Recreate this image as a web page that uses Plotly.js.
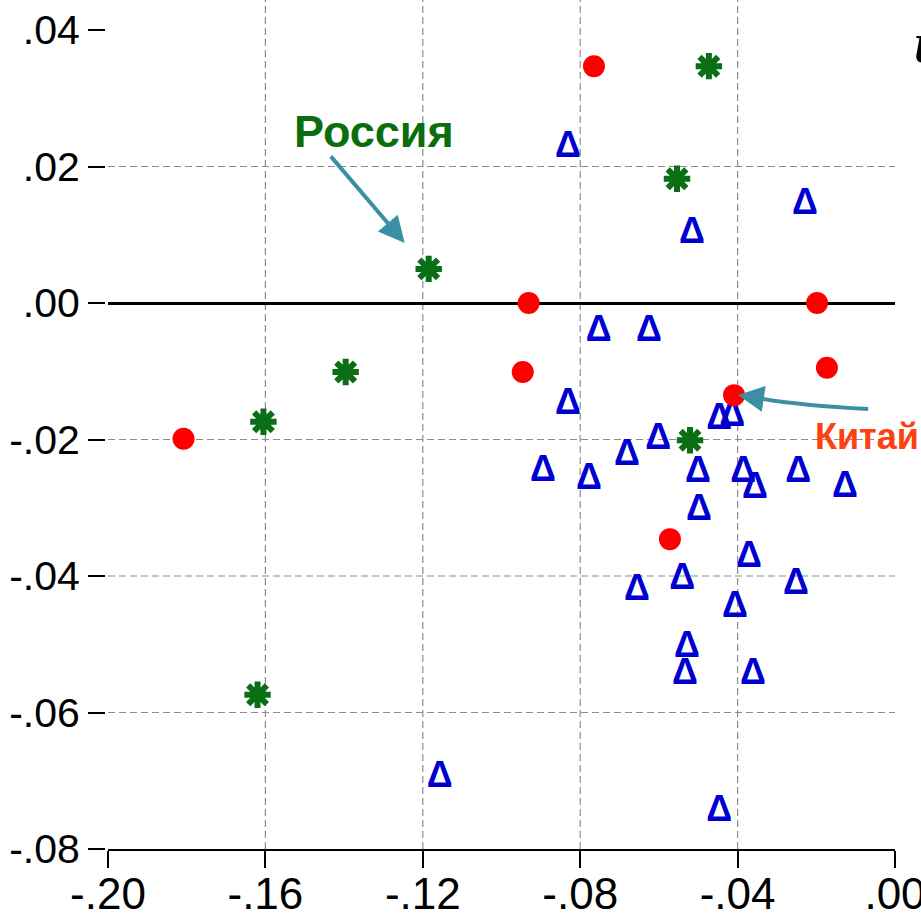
<!DOCTYPE html>
<html>
<head>
<meta charset="utf-8">
<script src="https://cdn.plot.ly/plotly-3.0.1.min.js"></script>
<style>html,body{margin:0;padding:0;background:#fff;}#chart{width:921px;height:922px;}</style>
</head>
<body>
<div id="chart"></div>
<script>
// Red circles
const redX = [-0.0765, -0.0931, -0.0198, -0.0946, -0.0173, -0.0409, -0.1808, -0.0572];
const redY = [0.0347, 0.0000, 0.0000, -0.0101, -0.0095, -0.0135, -0.0199, -0.0346];
// Green asterisks
const greenX = [-0.0473, -0.0554, -0.1185, -0.1396, -0.1605, -0.0521, -0.1620];
const greenY = [0.0347, 0.0182, 0.0050, -0.0101, -0.0174, -0.0201, -0.0574];
// Blue triangles
const blueX = [-0.0831, -0.0229, -0.0516, -0.0753, -0.0625, -0.0831, -0.0447, -0.0414, -0.0602, -0.0681,
               -0.0895, -0.0778, -0.0501, -0.0386, -0.0356, -0.0246, -0.0127, -0.0498, -0.0371, -0.0656,
               -0.0541, -0.0252, -0.0407, -0.0529, -0.0534, -0.0361, -0.1157, -0.0447];
const blueY = [0.0227, 0.0144, 0.0101, -0.0042, -0.0042, -0.0149, -0.0171, -0.0167, -0.0201, -0.0224,
               -0.0248, -0.0259, -0.0249, -0.0249, -0.0273, -0.0249, -0.0271, -0.0305, -0.0374, -0.0422,
               -0.0406, -0.0413, -0.0447, -0.0505, -0.0545, -0.0545, -0.0696, -0.0746];

const xTickVals = [-0.20, -0.16, -0.12, -0.08, -0.04, 0.00];
const xTickText = ['-.20', '-.16', '-.12', '-.08', '-.04', '.00'];
const yTickVals = [0.04, 0.02, 0.00, -0.02, -0.04, -0.06, -0.08];
const yTickText = ['.04', '.02', '.00', '-.02', '-.04', '-.06', '-.08'];
const xGrid = [-0.16, -0.12, -0.08, -0.04];
const yGrid = [0.02, -0.02, -0.04, -0.06];

const traces = [
  {x: blueX, y: blueY, type: 'scatter', mode: 'text', hoverinfo: 'skip', cliponaxis: false,
   text: blueX.map(() => '<b>Δ</b>'), textposition: 'middle center',
   textfont: {size: 36, color: '#0000d0', family: 'Liberation Sans, Arial, sans-serif'}},
  {x: greenX, y: greenY, type: 'scatter', mode: 'markers', hoverinfo: 'skip',
   marker: {symbol: 'asterisk-open', size: 22, color: '#0a6e14', line: {color: '#0a6e14', width: 6}}},
  {x: redX, y: redY, type: 'scatter', mode: 'markers', hoverinfo: 'skip',
   marker: {symbol: 'circle', size: 22, color: '#ff0000', line: {width: 0}}}
];

const gridStyle = {color: '#8c8c8c', width: 1.2, dash: '7px,4px'};
const shapes = [];
xGrid.forEach(v => shapes.push({type: 'line', layer: 'below', xref: 'x', yref: 'paper', x0: v, x1: v, y0: 0, y1: 1, line: gridStyle}));
yGrid.forEach(v => shapes.push({type: 'line', layer: 'below', xref: 'x', yref: 'y', x0: -0.2, x1: 0, y0: v, y1: v, line: gridStyle}));
// curved arrow shaft for Китай
shapes.push({type: 'path', layer: 'above', xref: 'x', yref: 'y',
  path: 'M -0.0068,-0.01553 Q -0.0240,-0.01500 -0.0340,-0.01400',
  line: {color: '#3a8fa3', width: 4}});

const layout = {
  width: 921, height: 922,
  margin: {l: 105, r: 26, t: 0, b: 73},
  paper_bgcolor: '#ffffff', plot_bgcolor: '#ffffff',
  showlegend: false,
  font: {family: 'Liberation Sans, Arial, sans-serif', color: '#000'},
  xaxis: {
    domain: [3/790, 1], range: [-0.2, 0], showgrid: false, zeroline: false,
    showline: true, linecolor: '#000', linewidth: 2,
    ticks: 'outside', ticklen: 17, tickwidth: 2, tickcolor: '#000',
    tickmode: 'array', tickvals: xTickVals, ticktext: xTickText,
    ticklabelstandoff: -12, ticklabeloverflow: 'allow',
    tickfont: {size: 44, family: 'Liberation Sans, Arial, sans-serif'}
  },
  yaxis: {
    anchor: 'free', position: 0,
    range: [-0.08, 0.04 + 30/6825], showgrid: false,
    zeroline: true, zerolinecolor: '#000', zerolinewidth: 3,
    showline: false,
    ticks: 'outside', ticklen: 17, tickwidth: 2, tickcolor: '#000',
    tickmode: 'array', tickvals: yTickVals, ticktext: yTickText,
    tickfont: {size: 41, family: 'Liberation Sans, Arial, sans-serif'}
  },
  shapes: shapes,
  annotations: [
    {x: -0.1325, y: 0.0252, xref: 'x', yref: 'y', text: '<b>Россия</b>', showarrow: false,
     font: {size: 45, color: '#0a6e0a', family: 'Liberation Sans, Arial, sans-serif'}},
    {x: -0.1246, y: 0.0088, ax: -0.1437, ay: 0.0217, xref: 'x', yref: 'y', axref: 'x', ayref: 'y',
     text: '', showarrow: true, arrowhead: 2, arrowsize: 1.3, arrowwidth: 4, arrowcolor: '#3a8fa3'},
    {x: -0.0070, y: -0.0196, xref: 'x', yref: 'y', text: '<b>Китай</b>', showarrow: false,
     font: {size: 36, color: '#ff4010', family: 'Liberation Sans, Arial, sans-serif'}},
    {x: -0.0399, y: -0.01348, ax: -0.0345, ay: -0.01395, xref: 'x', yref: 'y', axref: 'x', ayref: 'y',
     text: '', showarrow: true, arrowhead: 2, arrowsize: 1.3, arrowwidth: 4, arrowcolor: '#3a8fa3'},
    {x: 1.022, y: 0.99, xref: 'paper', yref: 'paper', xanchor: 'left', yanchor: 'top',
     text: '<b><i>u</i></b>', showarrow: false,
     font: {size: 58, color: '#000', family: 'Liberation Serif, Times New Roman, serif'}}
  ]
};

Plotly.newPlot('chart', traces, layout, {displayModeBar: false, staticPlot: true});
</script>
</body>
</html>
